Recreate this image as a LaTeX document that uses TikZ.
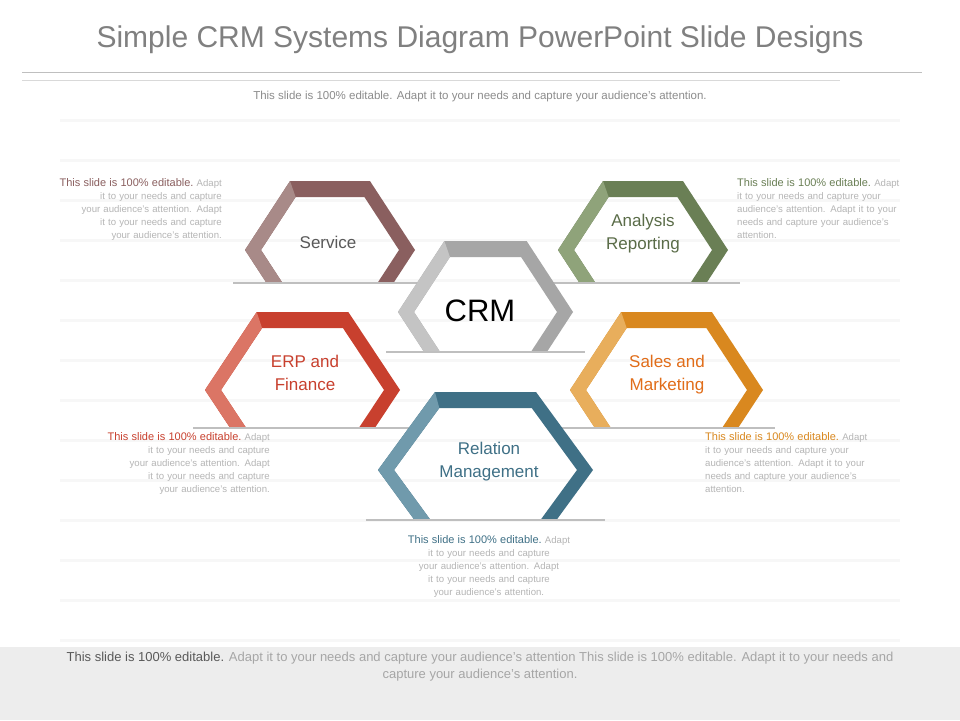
\documentclass[tikz,border=0pt]{standalone}
\usepackage{fontspec}
\setmainfont{Liberation Sans}
\definecolor{svc}{HTML}{8A5F5F}\definecolor{svcL}{HTML}{A88A88}
\definecolor{ana}{HTML}{6A7F55}\definecolor{anaL}{HTML}{8FA37A}
\definecolor{crm}{HTML}{A6A6A6}\definecolor{crmL}{HTML}{C4C4C4}
\definecolor{erp}{HTML}{C8402E}\definecolor{erpL}{HTML}{DB7565}
\definecolor{sal}{HTML}{D9881F}\definecolor{salL}{HTML}{E8AE5C}
\definecolor{rel}{HTML}{3F7086}\definecolor{relL}{HTML}{709AAC}
\definecolor{lite}{HTML}{B5B5B5}
\newcommand{\hexa}[7]{%
 \pgfmathsetmacro\hW{#2-#1}\pgfmathsetmacro\hH{#4-#3}\pgfmathsetmacro\ha{0.265*\hW}
 \pgfmathsetmacro\hb{\ha*(#5-#4)/\hH}
 \pgfmathsetmacro\ht{16}
 \pgfmathsetmacro\hHi{\hH-\ht}\pgfmathsetmacro\hai{\ha*\hHi/\hH}\pgfmathsetmacro\hbi{\hai*(#5-#4)/\hHi}
 \fill[#6,even odd rule] (#1+\hb,#5) -- (#1,#4) -- (#1+\ha,#3) -- (#2-\ha,#3) -- (#2,#4) -- (#2-\hb,#5) -- cycle
   (#1+\ht+\hbi,#5) -- (#1+\ht,#4) -- (#1+\ht+\hai,#3+\ht) -- (#2-\ht-\hai,#3+\ht) -- (#2-\ht,#4) -- (#2-\ht-\hbi,#5) -- cycle;
 \fill[#7] (#1+\hb,#5) -- (#1,#4) -- (#1+\ha,#3) -- (#1+\ht+\hai,#3+\ht) -- (#1+\ht,#4) -- (#1+\ht+\hbi,#5) -- cycle;
 \draw[black!25,line width=1.2pt] (#1-12,#5) -- (#2+12,#5);
}
\tikzset{side/.style={font=\fontsize{9.6}{13}\selectfont,text width=178pt,inner sep=0pt,text=lite},
 lab/.style={font=\fontsize{17}{23}\selectfont,align=center}}
\hyphenpenalty=10000 \exhyphenpenalty=10000
\newcommand{\hd}[1]{\fontsize{11}{13}\selectfont\textcolor{#1}{This slide is 100\% editable.}\fontsize{9.6}{13}\selectfont~Adapt }
\begin{document}
\begin{tikzpicture}[x=1pt,y=-1pt]
\useasboundingbox (0,0) rectangle (960,720);
\fill[white] (0,0) rectangle (960,720);
\foreach \y in {120,160,200,240,280,320,360,400,440,480,520,560,600,640}{\draw[black!3,line width=3pt] (60,\y) -- (900,\y);}
\fill[black!7] (0,647) rectangle (960,720);
\node (title) at (480,40) {\fontsize{30}{34}\selectfont\color{black!50}Simple CRM Systems Diagram PowerPoint Slide Designs};
\draw[black!25] (22,72) -- (922,72);
\draw[black!15] (22,80) -- (840,80);
\node (sub) at (480,97) {\fontsize{11.5}{13}\selectfont\color{black!45}This slide is 100\% editable. Adapt it to your needs and capture your audience's attention.};
\hexa{245}{415}{181}{250}{283}{svc}{svcL}
\hexa{558}{728}{181}{250}{283}{ana}{anaL}
\hexa{398}{573}{241}{312}{352}{crm}{crmL}
\hexa{205}{400}{312}{390}{428}{erp}{erpL}
\hexa{570}{763}{312}{390}{428}{sal}{salL}
\hexa{378}{593}{392}{470}{520}{rel}{relL}
\node[lab,text=black!65] (service) at (328,249) {Service};
\node[lab,text=ana!85!black] (analysis) at (643,251) {Analysis\\Reporting};
\node[font=\fontsize{31}{34}\selectfont] (crmt) at (480,322) {CRM};
\node[lab,text=erp] (erpt) at (305,391) {ERP and\\Finance};
\node[lab,text=sal!80!red] (salt) at (667,392) {Sales and\\Marketing};
\node[lab,text=rel] (relt) at (489,479) {Relation\\Management};
\node[side,align=right,anchor=north east] (t1) at (222,186) {\hd{svc}it to your needs and capture your audience's attention. Adapt it to your needs and capture your audience's attention.};
\node[side,align=left,anchor=north west] (t2) at (737,186) {\hd{ana}it to your needs and capture your audience's attention. Adapt it to your needs and capture your audience's attention.};
\node[side,align=right,anchor=north east] (t3) at (270,440) {\hd{erp}it to your needs and capture your audience's attention. Adapt it to your needs and capture your audience's attention.};
\node[side,align=left,anchor=north west] (t4) at (705,440) {\hd{sal}it to your needs and capture your audience's attention. Adapt it to your needs and capture your audience's attention.};
\node[side,align=center,anchor=north] (t5) at (489,543) {\hd{rel}it to your needs and capture your audience's attention. Adapt it to your needs and capture your audience's attention.};
\node[align=center,font=\fontsize{13}{17}\selectfont,text=black!35] (foot) at (480,680) {\textcolor{black!65}{This slide is 100\% editable.} Adapt it to your needs and capture your audience's attention This slide is 100\% editable. Adapt it to your needs and\\capture your audience's attention.};
\end{tikzpicture}
\end{document}
